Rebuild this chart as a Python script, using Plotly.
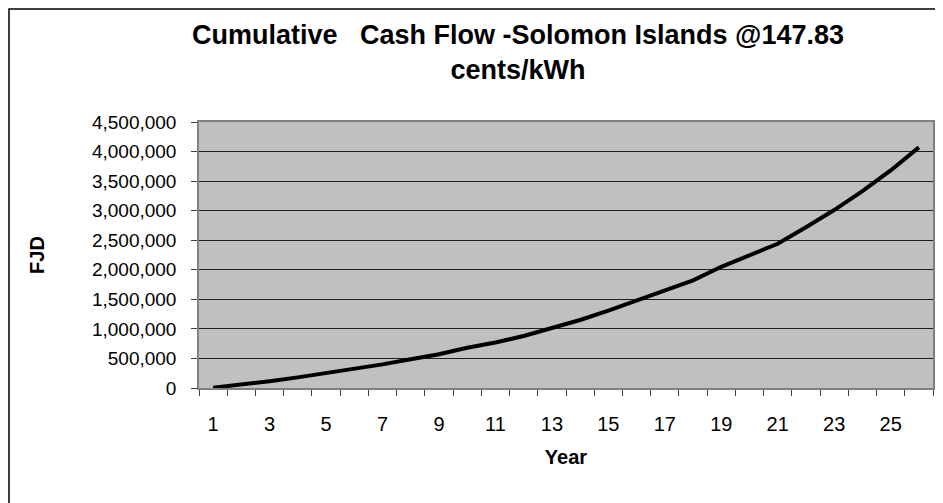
import plotly.graph_objects as go

years = list(range(1, 27))
cash_flow = [5000, 55000, 115000, 180000, 250000, 320000, 400000, 485000, 570000, 680000,
             770000, 880000, 1010000, 1150000, 1310000, 1480000, 1650000, 1820000, 2050000, 2250000,
             2440000, 2720000, 3010000, 3330000, 3680000, 4070000]
y_ticks = list(range(0, 4500001, 500000))
x_labels = list(range(1, 27, 2))

font = "Liberation Sans, Arial, sans-serif"

# plot area in figure pixels
L, T, R, B = 191, 114, 925, 380
W, H = 943, 503
pw, ph = R - L, B - T

fig = go.Figure()

fig.add_trace(go.Scatter(
    x=years, y=cash_flow, mode="lines",
    line=dict(color="black", width=4),
    showlegend=False, hoverinfo="x+y"
))

fig.update_layout(
    width=W, height=H,
    margin=dict(l=L, r=W - R, t=T, b=H - B),
    paper_bgcolor="white",
    plot_bgcolor="#c0c0c0",
    font=dict(family=font, size=19, color="black"),
    title=dict(
        text="Cumulative\u00a0\u00a0\u00a0Cash Flow -Solomon Islands @147.83<br>cents/kWh",
        font=dict(family=font, size=27, color="black", weight="bold"),
        x=510 / W, xanchor="center",
        y=1 - 36 / H, yanchor="top",
    ),
    xaxis=dict(
        range=[0.5, 26.5],
        tickvals=x_labels,
        ticktext=[str(v) for v in x_labels],
        tickfont=dict(size=20),
        ticks="outside", ticklen=17, tickcolor="rgba(0,0,0,0)",
        minor=dict(tick0=0.5, dtick=1, ticks="outside", ticklen=6,
                   tickcolor="#404040", showgrid=False),
        showgrid=False, zeroline=False,
        showline=True, linecolor="#808080", linewidth=1.5, mirror=True,
        title=dict(text="<b>Year</b>", font=dict(size=20), standoff=16),
    ),
    yaxis=dict(
        range=[0, 4500000],
        tickvals=y_ticks,
        tickformat=",",
        ticks="outside", ticklen=6, tickcolor="#404040",
        ticklabelstandoff=11,
        showgrid=True, gridcolor="#202020", gridwidth=1,
        zeroline=False,
        showline=True, linecolor="#808080", linewidth=1.5, mirror=True,
        title=dict(text="<b>FJD</b>", font=dict(size=20), standoff=42),
    ),
    shapes=[dict(
        type="rect", xref="paper", yref="paper",
        x0=(1 - L) / pw, x1=(W + 20 - L) / pw,
        y0=(B - H - 20) / ph, y1=(B - 1) / ph,
        line=dict(color="black", width=1.5), fillcolor="rgba(0,0,0,0)", layer="below",
    )],
)

fig.write_html("out.html")
